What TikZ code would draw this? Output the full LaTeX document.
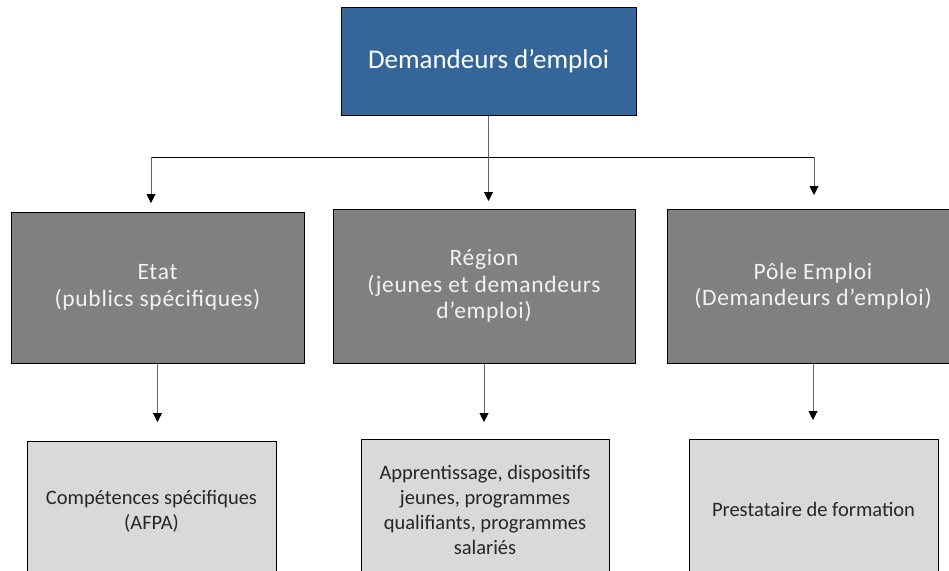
\documentclass[tikz,border=0pt]{standalone}
\usepackage{fontspec}
\setmainfont{Carlito}
\usetikzlibrary{arrows.meta}
\definecolor{topblue}{RGB}{52,102,153}
\definecolor{midgray}{RGB}{128,128,128}
\definecolor{lowgray}{RGB}{217,217,217}
\definecolor{linegray}{RGB}{100,100,100}
\tikzset{
    topbox/.style={draw=black, line width=1pt, fill=topblue, text=white, inner sep=0pt,
        minimum width=295pt, minimum height=108pt, font=\fontsize{27}{32}\selectfont},
    midbox/.style={draw=black, line width=1pt, fill=midgray, text=white!95!black, inner sep=0pt,
        align=center, font=\fontsize{23.5}{26.5}\selectfont\addfontfeature{LetterSpace=3}},
    lowbox/.style={draw=black, line width=0.8pt, fill=lowgray, text=black!85, inner sep=0pt,
        align=center, minimum width=249pt, minimum height=141pt, font=\fontsize{20.5}{25}\selectfont},
    link/.style={draw=linegray, line width=0.9pt},
    arrow/.style={link, -{Triangle[width=9pt,length=9pt,color=black]}}
}
\begin{document}
\begin{tikzpicture}[x=1pt, y=-1pt]
    \useasboundingbox (0,0) rectangle (949,570);
    \clip (0,0) rectangle (949,570);
    % boxes
    \node (demandeurs) at (488.5,61.5) [topbox] {Demandeurs d’emploi};
    \node (etat) at (157.5,287.5) [midbox, minimum width=293pt, minimum height=151pt] {Etat\\(publics spécifiques)};
    \node (region) at (484,286) [midbox, minimum width=302pt, minimum height=154pt] {Région\\(jeunes et demandeurs\\d’emploi)};
    \node (pole) at (813,286) [midbox, minimum width=292pt, minimum height=154pt] {Pôle Emploi\\(Demandeurs d’emploi)};
    \node (afpa) at (151.5,511.5) [lowbox] {Compétences spécifiques\\(AFPA)};
    \node (apprentissage) at (485,509.5) [lowbox, minimum width=248pt] {Apprentissage, dispositifs\\jeunes, programmes\\qualifiants, programmes\\salariés};
    \node (prestataire) at (813.5,509.5) [lowbox] {Prestataire de formation};
    % connectors
    \coordinate (busL) at (151,157);
    \coordinate (busR) at (814,157);
    \coordinate (tipE) at (151,203);
    \coordinate (tipR) at (488.5,201);
    \coordinate (tipP) at (814,195);
    \coordinate (tipA) at (157.5,422);
    \coordinate (tipB) at (484,422);
    \coordinate (tipC) at (813,420);
    \draw [draw=black, line width=0.9pt] (busL) -- (busR);
    \draw [arrow] (demandeurs.south) -- (tipR);
    \draw [arrow] (busL) -- (tipE);
    \draw [arrow] (busR) -- (tipP);
    \draw [arrow] (etat.south) -- (tipA);
    \draw [arrow] (region.south) -- (tipB);
    \draw [arrow] (pole.south) -- (tipC);
\end{tikzpicture}
\end{document}
